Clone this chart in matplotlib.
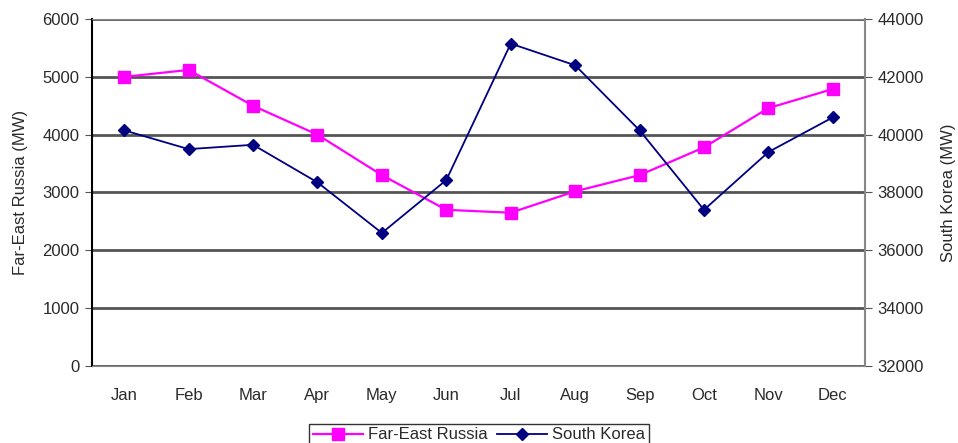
import matplotlib.pyplot as plt

months = ["Jan", "Feb", "Mar", "Apr", "May", "Jun", "Jul", "Aug", "Sep", "Oct", "Nov", "Dec"]
far_east_russia = [5000, 5120, 4500, 4000, 3300, 2700, 2650, 3020, 3300, 3780, 4460, 4790]
south_korea = [40150, 39500, 39650, 38350, 36600, 38430, 43150, 42400, 40150, 37400, 39400, 40600]

plt.rcParams['font.family'] = ['Liberation Sans', 'DejaVu Sans']
tc = '#2a2a2a'

fig = plt.figure(figsize=(9.58, 4.43), dpi=100)
ax = fig.add_axes([0.096, 0.174, 0.807, 0.783])
ax2 = ax.twinx()

x = list(range(len(months)))
l1, = ax.plot(x, far_east_russia, color='#ff00ff', lw=1.6, marker='s', ms=8.5,
              label='Far-East Russia', zorder=3)
l2, = ax2.plot(x, south_korea, color='#000080', lw=1.3, marker='D', ms=6.5,
               label='South Korea', zorder=3)

ax.set_xlim(-0.5, 11.5)
ax.set_ylim(0, 6000)
ax.set_yticks(range(0, 6001, 1000))
ax2.set_ylim(32000, 44000)
ax2.set_yticks(range(32000, 44001, 2000))
ax.set_xticks(x)
ax.set_xticklabels(months)

ax.yaxis.grid(True, color='#555555', lw=2)
ax.set_axisbelow(True)

for s in ['top', 'bottom']:
    ax.spines[s].set_color('#888888')
    ax2.spines[s].set_visible(False)
ax.spines['left'].set_color('black')
ax.spines['left'].set_linewidth(1.5)
ax.spines['right'].set_visible(False)
ax2.spines['left'].set_visible(False)
ax2.spines['right'].set_color('#888888')
ax2.spines['right'].set_linewidth(1.5)

ax.tick_params(axis='x', length=0, pad=16, labelsize=12, labelcolor=tc)
ax.tick_params(axis='y', length=5, labelsize=12, labelcolor=tc, color='#555555', pad=4)
ax2.tick_params(axis='y', length=5, labelsize=12, labelcolor=tc, color='#555555', pad=4)

ax.set_ylabel('Far-East Russia (MW)', fontsize=12, color=tc, labelpad=10)
ax2.set_ylabel('South Korea (MW)', fontsize=12, color=tc, labelpad=12)

leg = fig.legend(handles=[l1, l2], loc='lower center', bbox_to_anchor=(0.5, -0.025),
                 ncol=2, fontsize=12, frameon=True, fancybox=False,
                 handlelength=3, columnspacing=0.6, handletextpad=0.3,
                 borderpad=0.2)
leg.get_frame().set_edgecolor('black')
for t in leg.get_texts():
    t.set_color(tc)

fig.savefig('out.png', dpi=100)
